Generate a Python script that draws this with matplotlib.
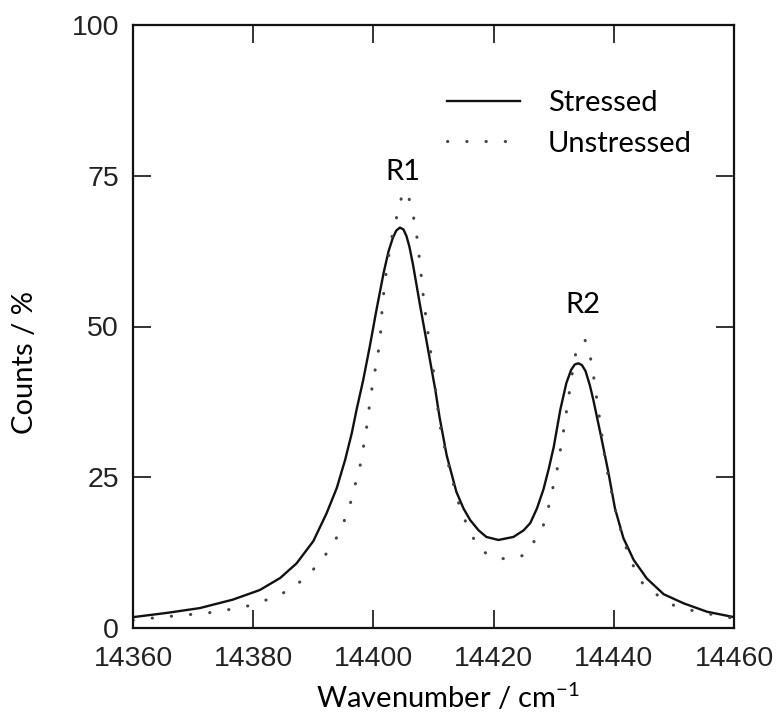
import matplotlib
matplotlib.use('Agg')
import matplotlib.pyplot as plt

# values
stressed_x = [14360, 14365.6, 14371.1, 14376.6, 14381.1, 14384.5, 14387.2, 14390,
              14392.2, 14393.9, 14395.3, 14396.4, 14397.2, 14398.3, 14399.4, 14400.5,
              14401.7, 14402.5, 14403.2, 14403.8, 14404.4, 14405, 14405.5, 14406,
              14406.6, 14407.8, 14409, 14410.3, 14411, 14412.2, 14413.8, 14415,
              14416.1, 14417.5, 14418.8, 14420.8, 14423.3, 14425, 14426.1, 14427.2,
              14428.3, 14429.2, 14430, 14431.1, 14432.1, 14432.9, 14433.5, 14434.1,
              14434.7, 14435.3, 14436, 14436.6, 14438, 14439.1, 14440.2, 14441.6,
              14443.3, 14445.5, 14448.3, 14451.6, 14455.5, 14460]
stressed_y = [1.8, 2.5, 3.3, 4.7, 6.3, 8.3, 10.7, 14.4,
              19, 23.2, 27.9, 32.3, 36.2, 41.1, 46.7, 52.7,
              58.9, 62.4, 64.6, 65.9, 66.4, 66.1, 65, 63.2,
              60.2, 53.3, 46.7, 39.5, 35, 28.6, 22.6, 19.8,
              17.9, 16.2, 15.1, 14.6, 15.1, 16.2, 17.4, 19.8,
              23, 26.5, 30, 36.2, 40.6, 42.8, 43.7, 43.9,
              43.6, 42.6, 40.3, 37.8, 31.2, 25.8, 19.8, 14.9,
              11.3, 8.2, 5.6, 4.1, 2.7, 1.8]

unstressed_x = [14360, 14363.7, 14368, 14372.5, 14375.6, 14378.6, 14381.1, 14383.9,
                14386.4, 14388.9, 14390.8, 14392.7, 14394.3, 14395.4, 14396.3, 14397.1,
                14397.8, 14398.3, 14398.8, 14399.2, 14399.6, 14400.6, 14401.1, 14401.5,
                14402.2, 14403, 14404, 14404.7, 14405.6, 14406.5, 14407.1, 14407.8,
                14408.4, 14409.2, 14410, 14411, 14412.2, 14413.8, 14414.7, 14416,
                14417.3, 14419.5, 14422.4, 14425.2, 14426.9, 14428.3, 14429.1, 14429.8,
                14430.5, 14431, 14431.5, 14431.9, 14432.4, 14432.8, 14433.8, 14435.2,
                14436.1, 14436.6, 14437, 14437.4, 14437.9, 14438.2, 14439.1, 14439.9,
                14440.5, 14441.3, 14442.2, 14443.3, 14444.8, 14447.2, 14449.9, 14452.6,
                14455.5, 14460]
unstressed_y = [1.3, 1.7, 2.1, 2.5, 3, 3.5, 4.3, 5.2,
                6.6, 8.5, 10.6, 13, 15.7, 18.4, 21.1, 24.3,
                27, 29.8, 32.7, 35.8, 38.8, 44.6, 47.5, 53.7,
                59.7, 64.5, 68.7, 71.5, 72.5, 69, 66, 60,
                54.1, 48.1, 42.5, 34, 28.2, 22, 19, 16.3,
                13.5, 11.8, 11.4, 12.1, 14.6, 17.1, 19.9, 23,
                25.9, 28.9, 31.7, 34.6, 37.5, 40.6, 46.3, 47.8,
                44.9, 42, 39.2, 36.2, 33.2, 30.1, 25, 21.2,
                18.5, 15.7, 12.9, 10.2, 7.4, 5.5, 3.8, 3,
                2.4, 1.6]

series_labels = ['Stressed', 'Unstressed']
peak_labels = ['R1', 'R2']
peak_pos = [(14404.9, 74.3), (14434.9, 52.2)]

x_ticks = [14360, 14380, 14400, 14420, 14440, 14460]
y_ticks = [0, 25, 50, 75, 100]

plt.rcParams['mathtext.fontset'] = 'custom'
plt.rcParams['mathtext.rm'] = 'Lato'

fig = plt.figure(figsize=(7.77, 7.16), dpi=100)
ax = fig.add_axes([133 / 777, 1 - 628 / 716, 601 / 777, 603 / 716])

ax.plot(stressed_x, stressed_y, color='#111111', lw=1.7, label=series_labels[0])
ax.plot(unstressed_x, unstressed_y, color='#444444', lw=2.2,
        linestyle=(0, (0.1, 6.2)), dash_capstyle='round', label=series_labels[1])

ax.set_xlim(14360, 14460)
ax.set_ylim(0, 100)
ax.set_xticks(x_ticks)
ax.set_yticks(y_ticks)
ax.tick_params(direction='in', length=13, width=1.2, top=True, right=True,
               labelsize=20.5, colors='#111111')
ax.tick_params(axis='x', pad=13)
ax.tick_params(axis='y', pad=10)
for lab in ax.get_xticklabels() + ax.get_yticklabels():
    lab.set_fontfamily('Liberation Sans')
    lab.set_color('#222222')
for sp in ax.spines.values():
    sp.set_linewidth(1.6)
    sp.set_color('#111111')

for name, (px, py) in zip(peak_labels, peak_pos):
    ax.text(px, py, name, ha='center', va='baseline', fontsize=21, family='Lato')

ax.set_xlabel('Wavenumber / cm$^{\\mathrm{-1}}$', fontsize=21, family='Lato')
ax.xaxis.label.set_va('baseline')
ax.xaxis.set_label_coords(0.524, -0.133)
ax.set_ylabel('Counts / %', fontsize=21, family='Lato')
ax.yaxis.label.set_va('baseline')
ax.yaxis.set_label_coords(-0.166, 0.44)

leg = ax.legend(loc='upper left', bbox_to_anchor=(0.5225, 0.892), frameon=False,
                prop={'family': 'Lato', 'size': 21}, handlelength=2.5,
                handletextpad=0.95, labelspacing=0.5, borderpad=0, borderaxespad=0)

fig.savefig('out.png', dpi=100)
